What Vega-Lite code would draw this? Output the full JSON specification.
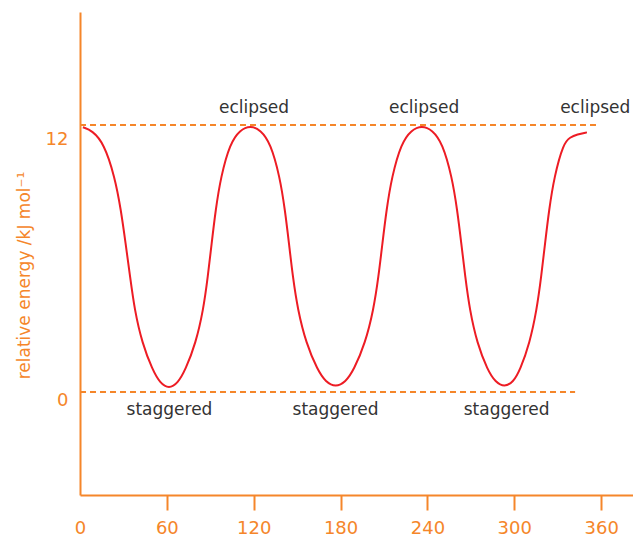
{
  "$schema": "https://vega.github.io/schema/vega-lite/v6.json",
  "width": 553,
  "height": 483,
  "autosize": {"type": "none"},
  "padding": {"left": 80, "top": 12, "right": 0, "bottom": 45},
  "background": "white",
  "config": {"view": {"stroke": null}, "font": "DejaVu Sans"},
  "datasets": {
    "curve": [
      {"angle": 2, "energy": 11.9}, {"angle": 8.4, "energy": 11.75}, {"angle": 16.5, "energy": 11.18}, {"angle": 24.0, "energy": 9.68}, {"angle": 28.3, "energy": 8.18}, {"angle": 31.5, "energy": 6.68}, {"angle": 34.6, "energy": 5.18}, {"angle": 37.7, "energy": 3.69}, {"angle": 42.95, "energy": 2.19}, {"angle": 50.1, "energy": 0.99}, {"angle": 55.3, "energy": 0.4}, {"angle": 61.45, "energy": 0.14},
      {"angle": 67.6, "energy": 0.4}, {"angle": 72.8, "energy": 0.99}, {"angle": 79.95, "energy": 2.19}, {"angle": 85.2, "energy": 3.69}, {"angle": 88.3, "energy": 5.18}, {"angle": 90.94, "energy": 6.68}, {"angle": 93.68, "energy": 8.18}, {"angle": 97.3, "energy": 9.68}, {"angle": 103.65, "energy": 11.18}, {"angle": 110.5, "energy": 11.78}, {"angle": 117.65, "energy": 11.98},
      {"angle": 124.8, "energy": 11.78}, {"angle": 131.65, "energy": 11.18}, {"angle": 138.0, "energy": 9.68}, {"angle": 141.6, "energy": 8.18}, {"angle": 144.36, "energy": 6.68}, {"angle": 147.0, "energy": 5.18}, {"angle": 150.45, "energy": 3.69}, {"angle": 156.2, "energy": 2.19}, {"angle": 164.05, "energy": 0.99}, {"angle": 169.8, "energy": 0.44}, {"angle": 176.6, "energy": 0.22},
      {"angle": 183.4, "energy": 0.44}, {"angle": 189.15, "energy": 0.99}, {"angle": 197.0, "energy": 2.19}, {"angle": 202.75, "energy": 3.69}, {"angle": 206.2, "energy": 5.18}, {"angle": 208.9, "energy": 6.68}, {"angle": 211.7, "energy": 8.18}, {"angle": 215.4, "energy": 9.68}, {"angle": 221.9, "energy": 11.18}, {"angle": 228.85, "energy": 11.78}, {"angle": 236.15, "energy": 11.98},
      {"angle": 243.45, "energy": 11.78}, {"angle": 250.4, "energy": 11.18}, {"angle": 256.9, "energy": 9.68}, {"angle": 260.6, "energy": 8.18}, {"angle": 263.4, "energy": 6.68}, {"angle": 266.1, "energy": 5.18}, {"angle": 269.2, "energy": 3.69}, {"angle": 274.3, "energy": 2.19}, {"angle": 281.5, "energy": 0.99}, {"angle": 287.0, "energy": 0.44}, {"angle": 293.3, "energy": 0.22},
      {"angle": 299.2, "energy": 0.44}, {"angle": 304.0, "energy": 0.99}, {"angle": 310.6, "energy": 2.19}, {"angle": 315.5, "energy": 3.69}, {"angle": 318.6, "energy": 5.18}, {"angle": 321.25, "energy": 6.68}, {"angle": 324.0, "energy": 8.18}, {"angle": 327.6, "energy": 9.68}, {"angle": 333.95, "energy": 11.18}, {"angle": 338.5, "energy": 11.45}, {"angle": 343.5, "energy": 11.58}, {"angle": 350.2, "energy": 11.67}
    ],
    "refs": [
      {"start": 0, "end": 358, "energy": 12},
      {"start": 0, "end": 342, "energy": 0}
    ],
    "labels": [
      {"angle": 120.2, "energy": 12.75, "text": "eclipsed"},
      {"angle": 237.7, "energy": 12.75, "text": "eclipsed"},
      {"angle": 355.9, "energy": 12.75, "text": "eclipsed"},
      {"angle": 61.8, "energy": -0.8, "text": "staggered"},
      {"angle": 176.5, "energy": -0.8, "text": "staggered"},
      {"angle": 294.7, "energy": -0.8, "text": "staggered"}
    ]
  },
  "layer": [
    {
      "data": {"name": "refs"},
      "mark": {"type": "rule", "color": "#f5862a", "strokeWidth": 2, "strokeDash": [6, 4]},
      "encoding": {
        "x": {
          "field": "start", "type": "quantitative",
          "scale": {"domain": [0, 382], "nice": false, "zero": false},
          "axis": {
            "values": [0, 60, 120, 180, 240, 300, 360],
            "title": null,
            "grid": false,
            "domainColor": "#f5862a", "domainWidth": 2,
            "tickColor": {"condition": {"test": "datum.value == 0", "value": "transparent"}, "value": "#f5862a"},
            "tickWidth": 2, "tickSize": 15,
            "labelColor": "#f5862a", "labelFontSize": 18, "labelPadding": 9,
            "labelFont": "DejaVu Sans", "labelFlush": false
          }
        },
        "x2": {"field": "end"},
        "y": {
          "field": "energy", "type": "quantitative",
          "scale": {"domain": [-4.63, 17.08], "nice": false, "zero": false},
          "axis": {
            "values": [-0.36, 11.37],
            "labelExpr": "datum.value > 5 ? '12' : '0'",
            "title": "relative energy /kJ mol\u207b\u00b9",
            "titleColor": "#f5862a", "titleFontSize": 17, "titleFontWeight": "normal",
            "titleFont": "DejaVu Sans",
            "titleX": -56, "titleY": 263, "titleAngle": 270, "titleAlign": "center", "titleBaseline": "middle",
            "grid": false, "ticks": false,
            "domainColor": "#f5862a", "domainWidth": 2,
            "labelColor": "#f5862a", "labelFontSize": 18, "labelPadding": 12,
            "labelFont": "DejaVu Sans"
          }
        }
      }
    },
    {
      "data": {"name": "curve"},
      "mark": {"type": "line", "color": "#ed1c24", "strokeWidth": 2, "interpolate": "basis"},
      "encoding": {
        "x": {"field": "angle", "type": "quantitative"},
        "y": {"field": "energy", "type": "quantitative"}
      }
    },
    {
      "data": {"name": "labels"},
      "mark": {"type": "text", "color": "#333333", "fontSize": 17, "font": "DejaVu Sans", "baseline": "middle", "align": "center"},
      "encoding": {
        "x": {"field": "angle", "type": "quantitative"},
        "y": {"field": "energy", "type": "quantitative"},
        "text": {"field": "text"}
      }
    }
  ]
}
